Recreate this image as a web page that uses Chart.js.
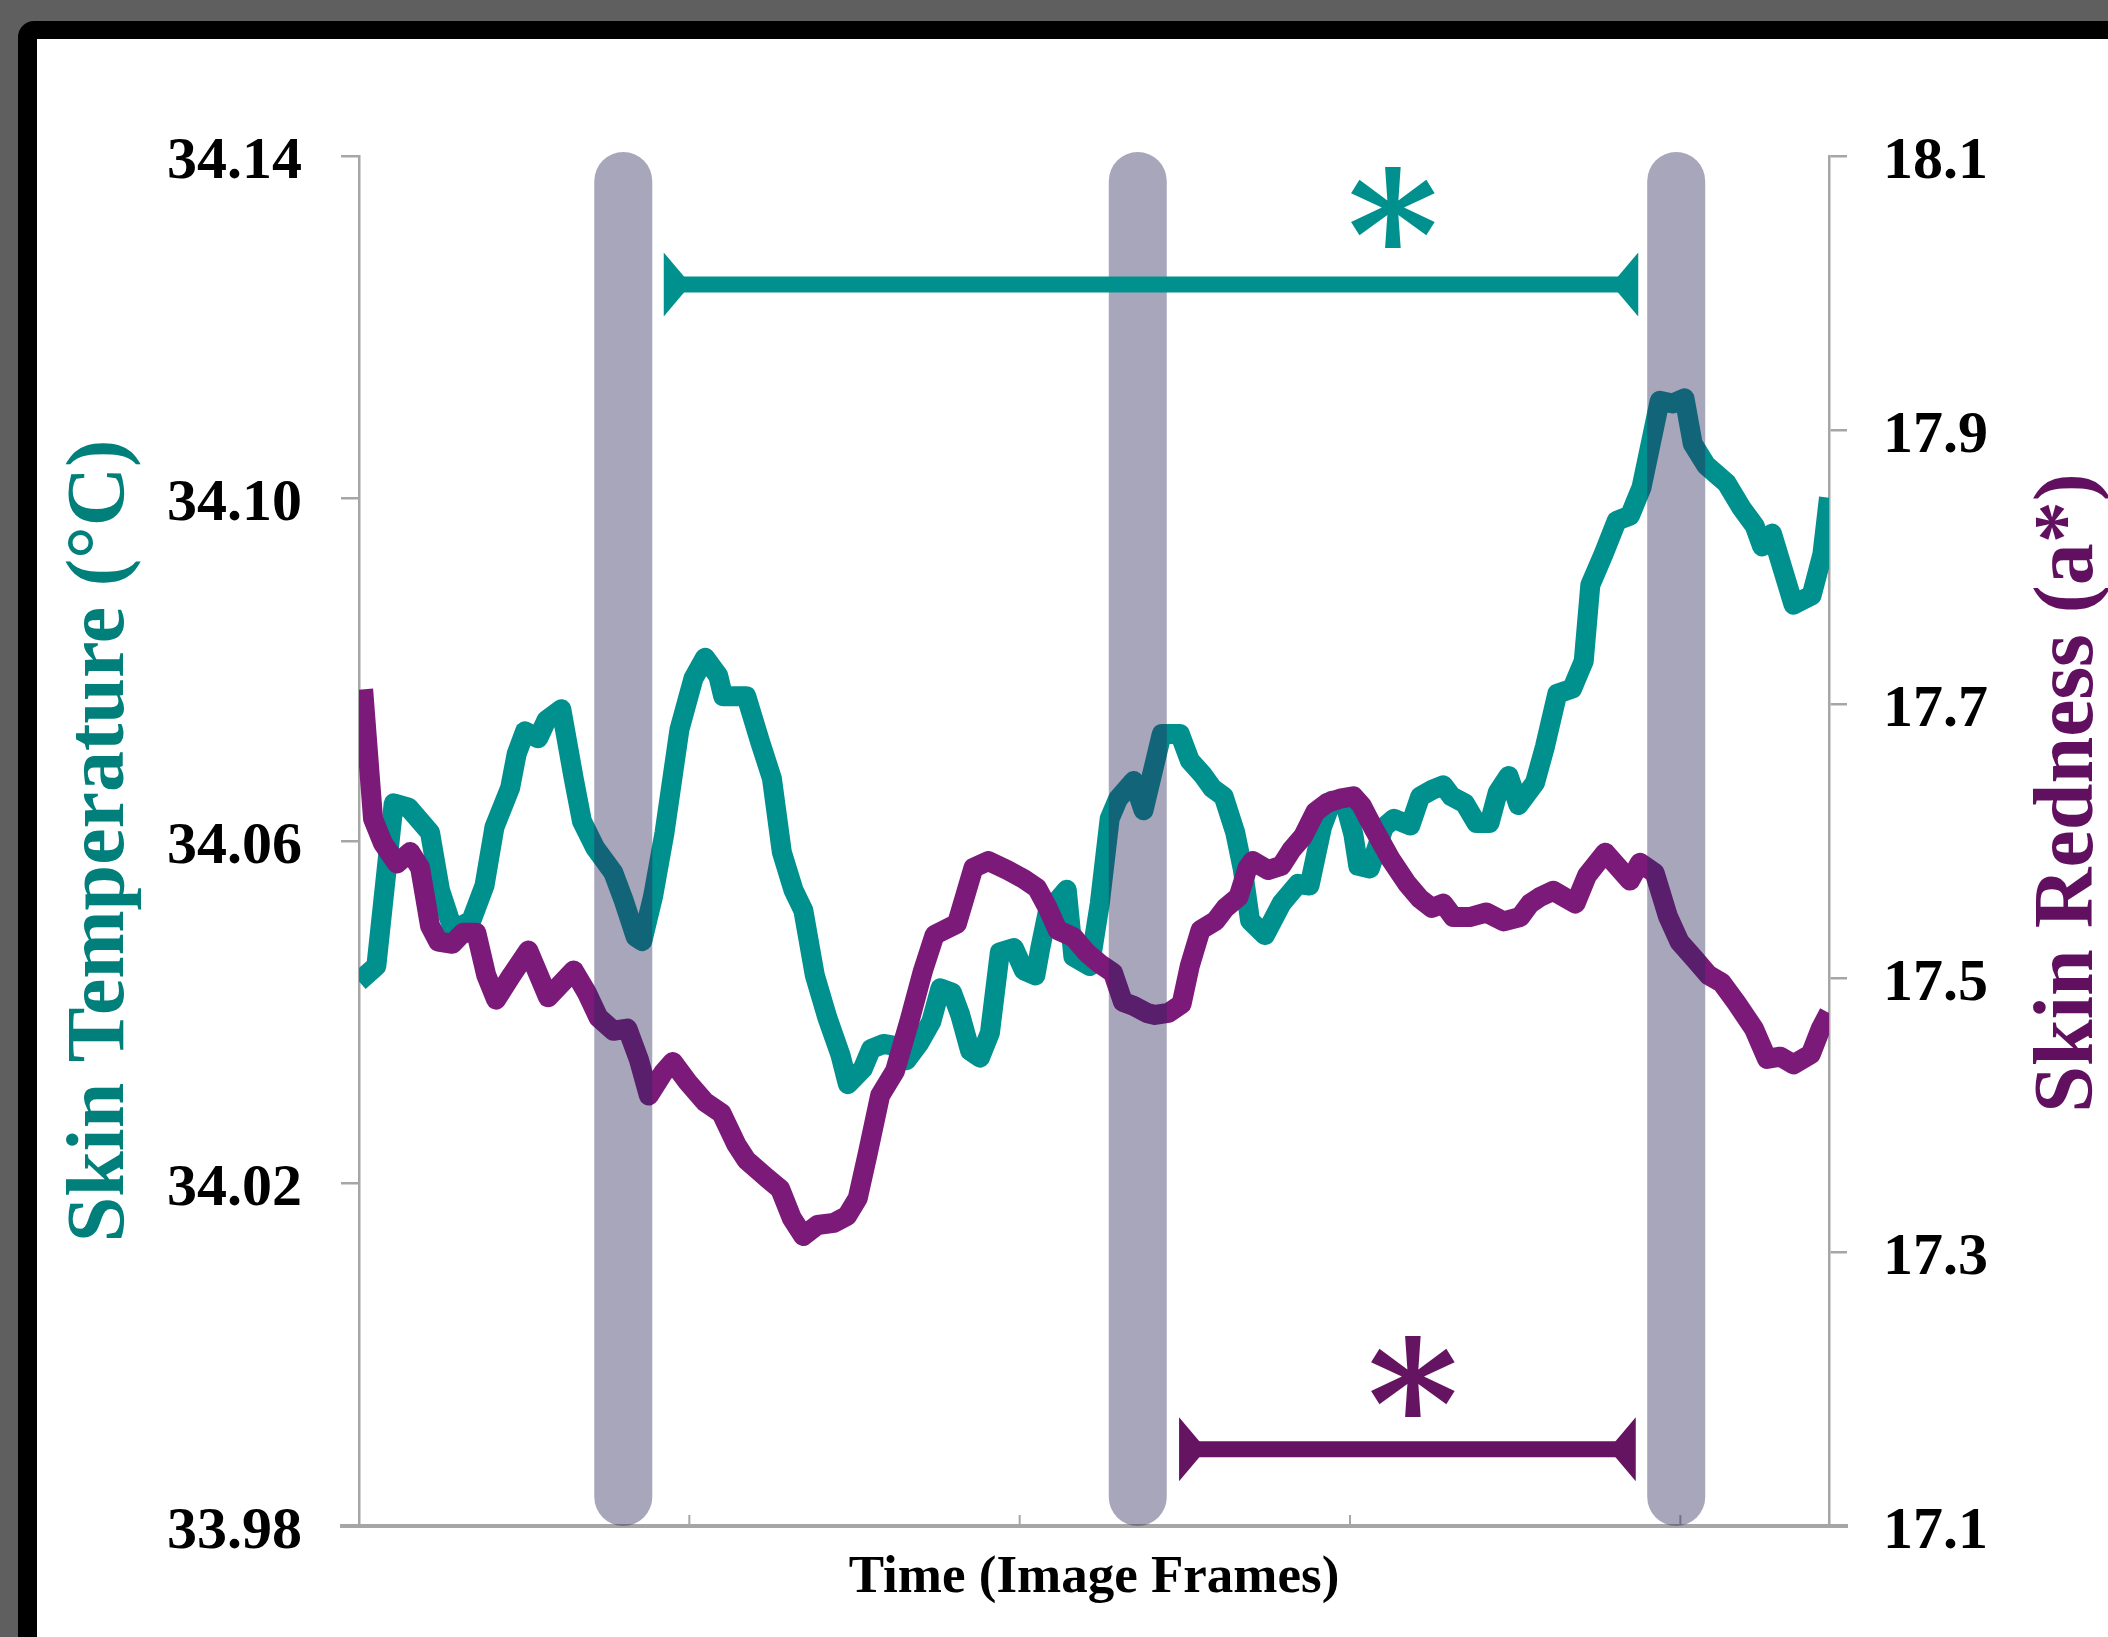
<!DOCTYPE html>
<html>
<head>
<meta charset="utf-8">
<title>Skin Temperature vs Skin Redness</title>
<script src="https://cdn.jsdelivr.net/npm/chart.js@4.4.1/dist/chart.umd.min.js"></script>
<style>
  html, body { margin: 0; padding: 0; width: 2108px; height: 1637px; overflow: hidden; background: #5f5f5f; }
  #frame { position: absolute; left: 18px; top: 21px; right: 0; bottom: 0; background: #000; border-top-left-radius: 16px; }
  #paper { position: absolute; left: 37px; top: 39px; right: 0; bottom: 0; background: #fff; }
  #chart { position: absolute; left: 0; top: 0; }
</style>
</head>
<body>
<div id="frame"></div>
<div id="paper"></div>
<canvas id="chart" width="2108" height="1637"></canvas>
<script>
// ===== Skin temperature vs skin redness over image frames =====

const FONT      = "'Liberation Serif', 'Times New Roman', serif";
const STAR_FONT = "'DejaVu Serif', serif";
const TEAL      = '#00918f';
const PURPLE    = '#7b1a79';
const AXIS      = '#a6a6a6';

// Skin temperature (°C), frame / value pairs
const tempFrames = [0, 2.1, 4.2, 6.0, 8.6, 9.8, 11.4, 13.6, 15.2, 16.4, 18.3, 19.1, 20.1, 21.7, 22.7, 24.5,
  26.0, 27.0, 28.6, 30.8, 32.0, 33.5, 34.3, 35.6, 37.0, 38.8, 40.5, 41.9, 43.5, 44.1, 46.9, 48.6,
  50.0, 51.2, 52.6, 53.8, 55.2, 56.7, 58.3, 59.2, 61.0, 62.0, 63.5, 64.7, 66.3, 67.9, 69.3, 70.4,
  71.8, 72.8, 74.0, 75.2, 76.4, 77.6, 79.3, 80.5, 81.9, 82.5, 83.4, 85.7, 86.5, 88.5, 89.7, 90.9,
  91.9, 93.8, 95.0, 97.2, 99.4, 100.6, 102.1, 103.3, 104.7, 106.1, 107.0, 107.9, 109.7, 111.7, 113.7, 115.1,
  116.6, 117.8, 119.4, 120.4, 121.0, 122.4, 124.1, 125.3, 127.3, 128.5, 130.0, 131.3, 132.3, 133.9, 135.3, 136.9,
  137.9, 139.2, 140.4, 142.4, 143.6, 145.1, 146.9, 148.3, 149.1, 150.7, 152.3, 153.9, 155.3, 157.5, 159.1, 160.5,
  161.5, 163.1, 165.6, 167.4, 169.0, 169.9, 171.1, 173.7, 175.9, 177.2, 178.0];
const tempValues = [34.0436, 34.0454, 34.0644, 34.0639, 34.0610, 34.0543, 34.0496, 34.0507, 34.0548, 34.0616, 34.0662, 34.0702, 34.0728, 34.0720, 34.0741, 34.0754,
  34.0673, 34.0623, 34.0592, 34.0563, 34.0532, 34.0488, 34.0483, 34.0535, 34.0610, 34.0730, 34.0790, 34.0814, 34.0793, 34.0769, 34.0769, 34.0715,
  34.0673, 34.0587, 34.0543, 34.0519, 34.0443, 34.0394, 34.0350, 34.0316, 34.0334, 34.0357, 34.0363, 34.0361, 34.0344, 34.0365, 34.0389, 34.0428,
  34.0423, 34.0397, 34.0355, 34.0347, 34.0376, 34.0470, 34.0475, 34.0449, 34.0443, 34.0475, 34.0517, 34.0543, 34.0465, 34.0454, 34.0527, 34.0626,
  34.0649, 34.0670, 34.0636, 34.0725, 34.0725, 34.0694, 34.0678, 34.0662, 34.0652, 34.0610, 34.0568, 34.0507, 34.0490, 34.0527, 34.0550, 34.0548,
  34.0616, 34.0647, 34.0644, 34.0608, 34.0571, 34.0568, 34.0616, 34.0626, 34.0618, 34.0652, 34.0660, 34.0665, 34.0652, 34.0644, 34.0621, 34.0621,
  34.0657, 34.0676, 34.0642, 34.0668, 34.0710, 34.0772, 34.0778, 34.0810, 34.0899, 34.0935, 34.0974, 34.0980, 34.1013, 34.1114, 34.1111, 34.1117,
  34.1064, 34.1039, 34.1018, 34.0989, 34.0968, 34.0944, 34.0959, 34.0876, 34.0887, 34.0935, 34.1001];

// Skin redness (a*), frame / value pairs
const rednessFrames = [0.5, 1.7, 2.9, 4.6, 6.2, 7.4, 8.6, 9.6, 11.3, 12.6, 14.2, 15.4, 16.6, 18.5, 20.5, 22.9,
  26.0, 27.6, 29.0, 30.8, 32.5, 33.9, 35.1, 36.8, 38.0, 39.8, 41.9, 43.9, 45.7, 46.9, 49.4, 51.0,
  52.4, 53.8, 55.5, 57.5, 59.1, 60.4, 61.6, 63.1, 64.9, 66.7, 68.3, 69.7, 72.4, 74.4, 76.2, 78.5,
  80.5, 82.1, 83.4, 84.6, 86.5, 88.1, 89.7, 91.3, 92.5, 93.8, 95.4, 96.4, 98.0, 99.6, 100.6, 101.9,
  103.7, 104.9, 106.5, 107.6, 108.2, 110.1, 111.7, 112.9, 114.3, 115.8, 117.2, 118.8, 120.4, 121.4, 122.8, 124.9,
  126.9, 128.5, 129.9, 131.3, 132.5, 134.5, 136.5, 138.6, 140.6, 141.8, 143.0, 144.6, 147.3, 148.7, 150.9, 153.9,
  155.1, 156.9, 158.5, 159.9, 161.8, 163.4, 165.0, 166.8, 168.9, 170.5, 172.1, 173.7, 175.8, 177.0, 178.0];
const rednessValues = [17.7107, 17.6162, 17.5983, 17.5836, 17.5920, 17.5804, 17.5380, 17.5266, 17.5250, 17.5331, 17.5331, 17.5022, 17.4842, 17.5022, 17.5201, 17.4859,
  17.5055, 17.4891, 17.4712, 17.4615, 17.4631, 17.4403, 17.4142, 17.4305, 17.4387, 17.4241, 17.4095, 17.4012, 17.3784, 17.3672, 17.3540, 17.3460,
  17.3248, 17.3117, 17.3197, 17.3213, 17.3263, 17.3394, 17.3718, 17.4142, 17.4321, 17.4696, 17.5055, 17.5315, 17.5396, 17.5804, 17.5854, 17.5788,
  17.5723, 17.5657, 17.5511, 17.5350, 17.5299, 17.5185, 17.5104, 17.5038, 17.4826, 17.4796, 17.4745, 17.4730, 17.4745, 17.4810, 17.5088, 17.5350,
  17.5416, 17.5511, 17.5592, 17.5804, 17.5854, 17.5788, 17.5820, 17.5934, 17.6032, 17.6212, 17.6277, 17.6309, 17.6326, 17.6260, 17.6097, 17.5869,
  17.5690, 17.5577, 17.5511, 17.5543, 17.5445, 17.5445, 17.5478, 17.5413, 17.5445, 17.5543, 17.5591, 17.5637, 17.5543, 17.5748, 17.5915, 17.5711,
  17.5841, 17.5766, 17.5450, 17.5264, 17.5134, 17.5022, 17.4966, 17.4818, 17.4631, 17.4409, 17.4426, 17.4370, 17.4445, 17.4631, 17.4745];

// Axis ranges and tick values
const frameMax     = 178;
const frameTicks   = [40, 80, 120, 160];
const tempTicks    = [33.98, 34.02, 34.06, 34.10, 34.14];
const rednessTicks = [17.1, 17.3, 17.5, 17.7, 17.9, 18.1];

// Event markers (frames) and significance brackets: [from, to, level]
const markerFrames   = [32, 94.3, 159.5];
const tempBracket    = [36.9, 154.9, 34.125];
const rednessBracket = [99.3, 154.6, 17.156];
const tempStar       = [125.2, 34.134];
const rednessStar    = [127.6, 17.209];

// ===== Drawing helpers =====
function drawBracket(ctx, x1, x2, y, color) {
  ctx.save();
  ctx.strokeStyle = color;
  ctx.fillStyle = color;
  ctx.lineWidth = 16;
  ctx.beginPath();
  ctx.moveTo(x1 + 12, y);
  ctx.lineTo(x2 - 12, y);
  ctx.stroke();
  // flat base at the outer end, point facing inward
  [[x1, 1], [x2, -1]].forEach(([x, d]) => {
    ctx.beginPath();
    ctx.moveTo(x, y - 32);
    ctx.lineTo(x + d * 27, y);
    ctx.lineTo(x, y + 32);
    ctx.closePath();
    ctx.fill();
  });
  ctx.restore();
}

function drawStar(ctx, x, y, color) {
  ctx.save();
  ctx.font = `bold 100px ${STAR_FONT}`;
  let m = ctx.measureText('*');
  const size = 100 * 82 / (m.actualBoundingBoxAscent + m.actualBoundingBoxDescent);
  ctx.font = `bold ${size}px ${STAR_FONT}`;
  m = ctx.measureText('*');
  ctx.fillStyle = color;
  ctx.textAlign = 'center';
  ctx.textBaseline = 'alphabetic';
  ctx.fillText('*', x, y + (m.actualBoundingBoxAscent - m.actualBoundingBoxDescent) / 2);
  ctx.restore();
}

const overlayPlugin = {
  id: 'overlay',
  beforeDatasetsDraw(chart) {
    const { ctx, chartArea: a, scales: { x } } = chart;
    ctx.save();
    ctx.strokeStyle = AXIS;
    // bottom axis runs a little past both vertical axes
    ctx.lineWidth = 4;
    ctx.beginPath();
    ctx.moveTo(a.left - 19, a.bottom);
    ctx.lineTo(a.right + 19, a.bottom);
    ctx.stroke();
    // x tick marks point inward
    ctx.lineWidth = 2;
    x.ticks.forEach(t => {
      const px = x.getPixelForValue(t.value);
      ctx.beginPath();
      ctx.moveTo(px, a.bottom);
      ctx.lineTo(px, a.bottom - 11);
      ctx.stroke();
    });
    ctx.restore();
  },
  afterDatasetsDraw(chart) {
    const { ctx, chartArea: a, scales: { x, yTemp, yRed } } = chart;

    // translucent event bars, on top of the traces
    ctx.save();
    ctx.strokeStyle = 'rgba(43, 39, 91, 0.41)';
    ctx.lineWidth = 58;
    ctx.lineCap = 'round';
    markerFrames.forEach(f => {
      const px = x.getPixelForValue(f);
      ctx.beginPath();
      ctx.moveTo(px, a.top - 4 + 29);
      ctx.lineTo(px, a.bottom - 29);
      ctx.stroke();
    });
    ctx.restore();

    drawBracket(ctx, x.getPixelForValue(tempBracket[0]), x.getPixelForValue(tempBracket[1]),
      yTemp.getPixelForValue(tempBracket[2]), TEAL);
    drawBracket(ctx, x.getPixelForValue(rednessBracket[0]), x.getPixelForValue(rednessBracket[1]),
      yRed.getPixelForValue(rednessBracket[2]), '#641460');

    drawStar(ctx, x.getPixelForValue(tempStar[0]), yTemp.getPixelForValue(tempStar[1]), TEAL);
    drawStar(ctx, x.getPixelForValue(rednessStar[0]), yRed.getPixelForValue(rednessStar[1]), '#641460');
  },
  afterDraw(chart) {
    // right axis title reads bottom-to-top, like the left one
    const { ctx } = chart;
    ctx.save();
    ctx.translate(chart.width - 38, 793);
    ctx.rotate(-Math.PI / 2);
    ctx.font = `bold 84px ${FONT}`;
    ctx.fillStyle = '#611060';
    ctx.textAlign = 'center';
    ctx.textBaseline = 'middle';
    ctx.fillText('Skin Redness (a*)', 0, 0);
    ctx.restore();
  }
};

const tickFont = { family: FONT, size: 60, weight: 'bold' };
const yGrid    = { drawOnChartArea: false, drawTicks: true, tickLength: 18, color: AXIS, lineWidth: 2.5 };

new Chart(document.getElementById('chart'), {
  type: 'line',
  data: {
    datasets: [
      {
        label: 'Skin Temperature',
        data: tempFrames.map((f, i) => ({ x: f, y: tempValues[i] })),
        yAxisID: 'yTemp',
        borderColor: TEAL,
        borderWidth: 20,
        borderJoinStyle: 'round',
        pointRadius: 0,
        tension: 0,
        order: 2
      },
      {
        label: 'Skin Redness',
        data: rednessFrames.map((f, i) => ({ x: f, y: rednessValues[i] })),
        yAxisID: 'yRed',
        borderColor: PURPLE,
        borderWidth: 20,
        borderJoinStyle: 'round',
        pointRadius: 0,
        tension: 0,
        order: 1
      }
    ]
  },
  options: {
    responsive: false,
    animation: false,
    layout: { padding: { top: 156, left: 0, right: 0, bottom: 0 } },
    plugins: { legend: { display: false }, tooltip: { enabled: false } },
    scales: {
      x: {
        type: 'linear',
        min: 0,
        max: frameMax,
        afterBuildTicks: s => { s.ticks = frameTicks.map(v => ({ value: v })); },
        afterFit: s => { s.height = 111; },
        ticks: { display: false },
        grid: { display: false },
        border: { display: true, color: AXIS, width: 4 },
        title: {
          display: true,
          text: 'Time (Image Frames)',
          color: '#000',
          font: { family: FONT, size: 53, weight: 'bold' },
          padding: { top: 0, bottom: 27 }
        }
      },
      yTemp: {
        position: 'left',
        min: tempTicks[0],
        max: tempTicks[tempTicks.length - 1],
        afterBuildTicks: s => { s.ticks = tempTicks.map(v => ({ value: v })); },
        afterFit: s => { s.width = 359; },
        ticks: { font: tickFont, color: '#000', padding: 39, labelOffset: 6, callback: v => v.toFixed(2) },
        grid: yGrid,
        border: { display: true, color: AXIS, width: 2.5 },
        title: {
          display: true,
          text: 'Skin Temperature (°C)',
          color: '#007f7b',
          font: { family: FONT, size: 82, weight: 'bold' },
          padding: { top: 53, bottom: 0 }
        }
      },
      yRed: {
        position: 'right',
        min: rednessTicks[0],
        max: rednessTicks[rednessTicks.length - 1],
        afterBuildTicks: s => { s.ticks = rednessTicks.map(v => ({ value: v })); },
        afterFit: s => { s.width = 279; },
        ticks: { font: tickFont, color: '#000', padding: 36, labelOffset: 6, callback: v => v.toFixed(1) },
        grid: yGrid,
        border: { display: true, color: AXIS, width: 2.5 }
      }
    }
  },
  plugins: [overlayPlugin]
});
</script>
</body>
</html>
